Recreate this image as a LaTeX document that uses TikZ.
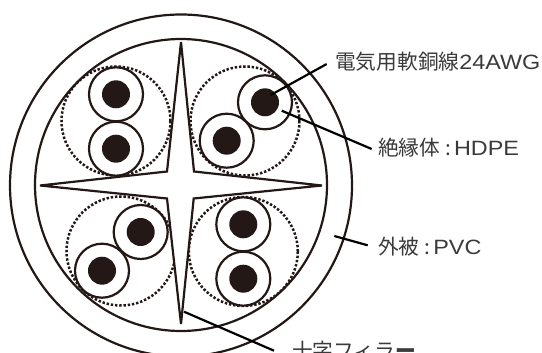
\documentclass[tikz,border=0pt]{standalone}
\usepackage{fontspec}
\setmainfont{Noto Sans CJK JP}
\newfontfamily\latinf{Liberation Sans}
\definecolor{ink}{HTML}{231815}
\definecolor{txt}{HTML}{3A3A3A}
\tikzset{
  sheath/.style={circle,draw=ink,line width=2.2pt,minimum size=#1,inner sep=0pt,outer sep=0pt},
  pairring/.style={circle,draw=ink,line width=2.5pt,dash pattern=on 2.4pt off 1.85pt,minimum size=109pt,inner sep=0pt},
  insul/.style={circle,draw=ink,fill=white,line width=2.2pt,minimum size=54pt,inner sep=0pt},
  core/.style={circle,fill=ink,minimum size=28pt,inner sep=0pt},
  filler/.style={draw=ink,fill=white,line width=2.2pt,line join=miter,miter limit=3},
  leader/.style={draw=black,line width=2.2pt},
  lbl/.style={anchor=west,inner sep=0pt,text=txt,font=\fontsize{20.7}{20.7}\selectfont},
}
\newcommand{\wl}[1]{{\latinf\addfontfeatures{FakeStretch=1.13}#1}}
\begin{document}
\begin{tikzpicture}[x=1pt,y=-1pt]
\useasboundingbox (0,0) rectangle (542,353);
\node[sheath=342pt] (outer) at (181,185.5) {};
\node[sheath=292pt] (inner) at (181,185) {};
\foreach \n/\x/\y in {ra/116/121,rb/245/121,rc/121/251,rd/243.3/251.5}
  \node[pairring] (\n) at (\x,\y) {};
\draw[filler] (181,42) -- (194,171.5) -- (322,185.5) -- (193.7,198.5) -- (181,324) -- (167,198.5) -- (40,185.5) -- (167,171.5) -- cycle;
\foreach \n/\x/\y in {a/116/94.3,b/116/148.7,c/265/102.3,d/226.7/140.7,e/140.7/232,f/102/270.7,g/243.3/224.3,h/243.3/278.7}{
  \node[insul] (w\n) at (\x,\y) {};
  \node[core] (c\n) at (\x,\y) {};
}
\node[lbl] (l1) at (335,62) {電気用軟銅線\wl{24AWG}};
\node[lbl] (l2) at (378,148) {絶縁体\hspace{5pt}:\hspace{3pt}\wl{HDPE}};
\node[lbl] (l3) at (378,246.5) {外被\hspace{5pt}:\hspace{3pt}\wl{PVC}};
\node[lbl] (l4) at (292,351) {十字フィラ\textbf{ー}};
\coordinate (s1) at (270.7,95); \coordinate (e1) at (326.7,64);
\coordinate (s2) at (281.7,110.7); \coordinate (e2) at (371.7,149);
\coordinate (s3) at (334.3,236); \coordinate (e3) at (367.7,245.3);
\coordinate (s4) at (184,311.7); \coordinate (e4) at (274,350.7);
\draw[leader] (s1) -- (e1);
\draw[leader] (s2) -- (e2);
\draw[leader] (s3) -- (e3);
\draw[leader] (s4) -- (e4);
\end{tikzpicture}
\end{document}
